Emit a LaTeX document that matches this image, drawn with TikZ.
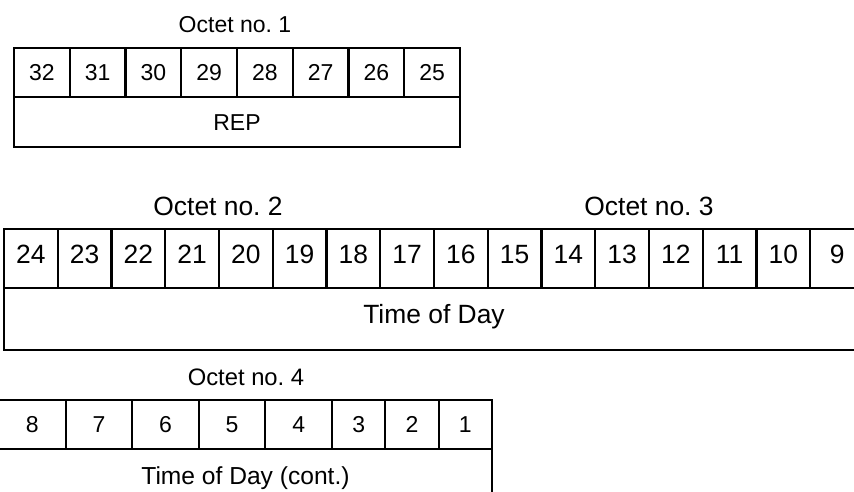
\documentclass[tikz,border=0pt]{standalone}
\usepackage{fontspec}
\setmainfont{Liberation Sans}
\frenchspacing
\begin{document}
\begin{tikzpicture}[x=1pt,y=-1pt]
\tikzset{
  cell/.style={draw, line width=2.1pt, inner sep=0pt, outer sep=0pt,
    font=\fontsize{23}{27}\selectfont, text height=16.5pt, text depth=0pt,
    anchor=north west},
  lbl/.style={inner sep=0pt, font=\fontsize{23}{27}\selectfont,
    text height=16.5pt, text depth=0pt},
  big/.style={font=\fontsize{26.4}{30}\selectfont, text height=18.9pt}
}
\useasboundingbox (0,0) rectangle (854,492);
\clip (0,0) rectangle (854,492);
% Octet 1
\node[lbl] (o1) at (235,24.5) {Octet no. 1};
\foreach \n [count=\i from 0] in {32,31,...,25}
  \node[cell, minimum width=55.75pt, minimum height=49pt] (a\n) at ({14+\i*55.75},48) {\n};
\node[cell, minimum width=446pt, minimum height=50pt] (rep) at (14,97) {REP};
% Octets 2 and 3
\node[lbl, big] (o2) at (218,206) {Octet no. 2};
\node[lbl, big] (o3) at (649,206) {Octet no. 3};
\foreach \n [count=\i from 0] in {24,23,...,9}
  \node[cell, big, minimum width=53.75pt, minimum height=59pt, text depth=8pt] (b\n) at ({4+\i*53.75},229) {\n};
\node[cell, big, minimum width=860pt, minimum height=62pt, text depth=10pt] (tod) at (4,288) {Time of Day};
% Octet 4
\node[lbl, font=\fontsize{23.8}{28}\selectfont, text height=17pt] (o4) at (246,377) {Octet no. 4};
\foreach \n [count=\i from 0] in {8,7,...,4}
  \node[cell, minimum width=66.6pt, minimum height=49pt] (c\n) at ({-1+\i*66.6},400) {\n};
\foreach \n [count=\i from 0] in {3,2,1}
  \node[cell, minimum width=53.33pt, minimum height=49pt] (c\n) at ({332+\i*53.33},400) {\n};
\node[cell, minimum width=493pt, minimum height=54pt, font=\fontsize{24.6}{28}\selectfont,
  text height=17.6pt] (todc) at (-1,449) {Time of Day (cont.)};
\end{tikzpicture}
\end{document}
